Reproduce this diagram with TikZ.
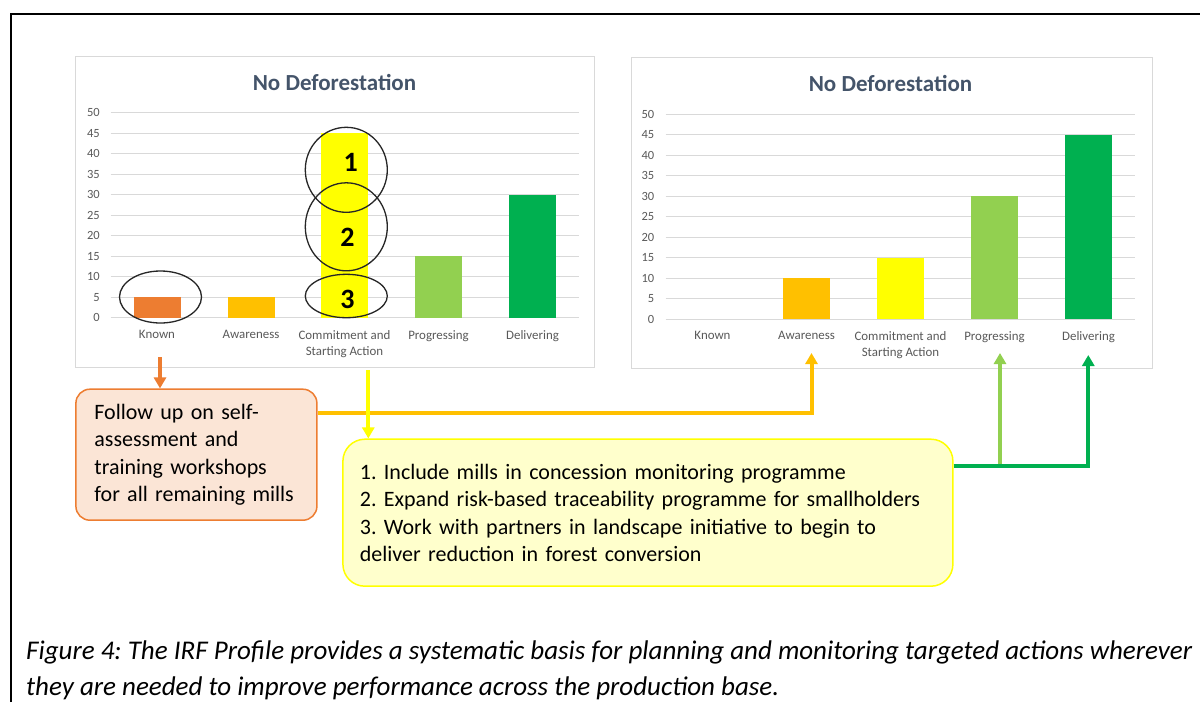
\documentclass[tikz,border=0pt]{standalone}
\usepackage{fontspec}
\setmainfont{Carlito}
\usetikzlibrary{arrows.meta}
\definecolor{cOrange}{HTML}{ED7D31}
\definecolor{cGold}{HTML}{FFC000}
\definecolor{cYellow}{HTML}{FFFF00}
\definecolor{cLGreen}{HTML}{92D050}
\definecolor{cGreen}{HTML}{00B050}
\definecolor{cGrid}{HTML}{D9D9D9}
\definecolor{cAxis}{HTML}{595959}
\definecolor{cTitle}{HTML}{44546A}
\definecolor{cPeach}{HTML}{FBE5D6}
\definecolor{cPale}{HTML}{FFFFCC}
\frenchspacing
\begin{document}
\begin{tikzpicture}[x=1pt,y=-1pt,
  chartframe/.style={draw=cGrid, line width=1pt, fill=white, inner sep=0pt},
  gridline/.style={draw=cGrid, line width=1pt},
  ylab/.style={anchor=east, inner sep=0pt, text=cAxis, font=\fontsize{12.5}{15}\selectfont},
  catlab/.style={anchor=north, inner sep=0pt, align=center, text=cAxis, font=\fontsize{12.9}{16}\selectfont},
  ctitle/.style={inner sep=0pt, text=cTitle, font=\bfseries\fontsize{23}{27}\selectfont},
  bar/.style={inner sep=0pt, minimum width=47pt, anchor=south, draw=none},
  ring/.style={draw=black!85, line width=1.3pt},
  num/.style={inner sep=0pt, font=\bfseries\fontsize{28}{30}\selectfont},
  arr/.style={line width=4pt, -{Triangle[width=12pt,length=11pt]}},
  link/.style={line width=4pt},
  boxtext/.style={font=\fontsize{22}{27.5}\selectfont, align=left}
]
\useasboundingbox (0,0) rectangle (1200,702);
% outer frame
\draw[line width=2pt] (11,702) -- (11,14) -- (1200,14);

% ---------- left chart ----------
\node[chartframe, minimum width=519pt, minimum height=311pt, anchor=north west] (lchart) at (75,55.7) {};
\node[ctitle] (ltitle) at (334.5,82.3) {No Deforestation};
\foreach \v in {0,5,...,50}{
  \draw[gridline] (110.7,{317.7-4.1*\v}) -- (579,{317.7-4.1*\v});
  \node[ylab] (ly\v) at (100,{317.7-4.1*\v}) {\v};
}
\node[bar, fill=cOrange, minimum height=20.5pt] (lb1) at (157,317.7) {};
\node[bar, fill=cGold, minimum height=20.5pt] (lb2) at (251,317.7) {};
\node[bar, fill=cYellow, minimum height=184.5pt] (lb3) at (344.5,317.7) {};
\node[bar, fill=cLGreen, minimum height=61.5pt] (lb4) at (438.5,317.7) {};
\node[bar, fill=cGreen, minimum height=123pt] (lb5) at (532.5,317.7) {};
\node[catlab] (lc1) at (157,330) {Known};
\node[catlab] (lc2) at (251,330) {Awareness};
\node[catlab] (lc3) at (344.5,330) {Commitment and\\Starting Action};
\node[catlab] (lc4) at (438.5,330) {Progressing};
\node[catlab] (lc5) at (532.5,330) {Delivering};
% rings
\draw[ring] (160.5,297) ellipse [x radius=41, y radius=26];
\draw[ring] (346.3,169.8) ellipse [x radius=41, y radius=42.5];
\draw[ring] (346.3,226.8) ellipse [x radius=41, y radius=44];
\draw[ring] (346.3,296) ellipse [x radius=41, y radius=21.7];
\node[num] (n1) at (350.7,162) {1};
\node[num] (n2) at (347.5,237) {2};
\node[num] (n3) at (347.5,299) {3};

% ---------- right chart ----------
\node[chartframe, minimum width=521pt, minimum height=311pt, anchor=north west] (rchart) at (630.5,56.7) {};
\node[ctitle] (rtitle) at (890.5,83.3) {No Deforestation};
\foreach \v in {0,5,...,50}{
  \draw[gridline] (665.6,{319.3-4.1*\v}) -- (1135.3,{319.3-4.1*\v});
  \node[ylab] (ry\v) at (654.5,{319.3-4.1*\v}) {\v};
}
\node[bar, fill=cGold, minimum height=41pt] (rb2) at (806.5,319.3) {};
\node[bar, fill=cYellow, minimum height=61.5pt] (rb3) at (900.5,319.3) {};
\node[bar, fill=cLGreen, minimum height=123pt] (rb4) at (994.5,319.3) {};
\node[bar, fill=cGreen, minimum height=184.5pt] (rb5) at (1088.5,319.3) {};
\node[catlab] (rc1) at (712.5,331) {Known};
\node[catlab] (rc2) at (806.5,331) {Awareness};
\node[catlab] (rc3) at (900.5,331) {Commitment and\\Starting Action};
\node[catlab] (rc4) at (994.5,331) {Progressing};
\node[catlab] (rc5) at (1088.5,331) {Delivering};

% ---------- boxes ----------
\node[boxtext, draw=cOrange, line width=1.5pt, fill=cPeach, rounded corners=14pt,
      minimum width=241pt, minimum height=131pt, text width=204pt, inner xsep=18.5pt] (obox) at (196.4,454.7)
  {\mbox{Follow up on self-}\\\mbox{assessment and}\\\mbox{training workshops}\\\mbox{for all remaining mills}};
\node[boxtext, draw=cYellow, line width=1.5pt, fill=cPale, rounded corners=22pt,
      minimum width=610pt, minimum height=147pt, text width=576pt, inner xsep=17pt] (ybox) at (647.9,512.7)
  {\mbox{1. Include mills in concession monitoring programme}\\
   \mbox{2. Expand risk-based traceability programme for smallholders}\\
   \mbox{3. Work with partners in landscape initiative to begin to}\\
   \mbox{deliver reduction in forest conversion}};

% ---------- connectors ----------
\coordinate (oa) at (160,357);
\coordinate (ya) at (368.3,370);
\coordinate (gy) at (0,413.3);
\coordinate (gcorner) at (811.5,413.3);
\coordinate (gtip) at (811.5,353);
\coordinate (grny) at (0,466);
\coordinate (lgbase) at (1000,466);
\coordinate (lgtip) at (1000,353);
\coordinate (dgcorner) at (1088.3,466);
\coordinate (dgtip) at (1088.3,355);

\draw[arr, cOrange] (oa) -- (oa |- obox.north);
\draw[link, cGold, -{Triangle[width=12pt,length=11pt]}] (obox.east |- gy) -- (gcorner) -- (gtip);
\draw[arr, cYellow] (ya) -- (ya |- ybox.north);
\draw[arr, cLGreen] (lgbase) -- (lgtip);
\draw[link, cGreen, -{Triangle[width=12pt,length=11pt]}] (ybox.east |- grny) -- (dgcorner) -- (dgtip);

% ---------- caption ----------
\node[anchor=base west, inner sep=0pt, font=\itshape\fontsize{27}{36}\selectfont] (cap1) at (26,659)
  {Figure 4: The IRF Profile provides a systematic basis for planning and monitoring targeted actions wherever};
\node[anchor=base west, inner sep=0pt, font=\itshape\fontsize{27}{36}\selectfont] (cap2) at (26,695)
  {they are needed to improve performance across the production base.};
\end{tikzpicture}
\end{document}
